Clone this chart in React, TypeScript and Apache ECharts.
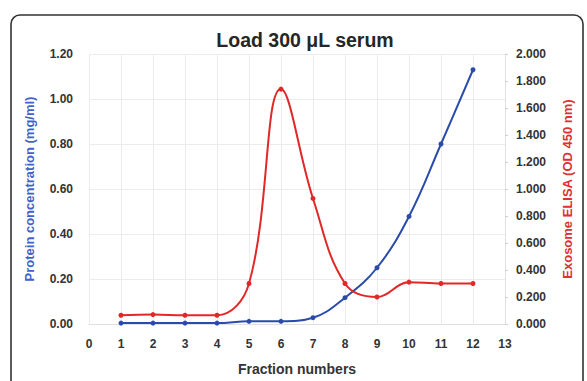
import React, { useEffect, useRef } from "react";
import * as echarts from "echarts";

const fractions = [1, 2, 3, 4, 5, 6, 7, 8, 9, 10, 11, 12];
const protein = [0.004, 0.004, 0.004, 0.004, 0.012, 0.012, 0.028, 0.117, 0.25, 0.478, 0.8, 1.13];
const exosome = [0.065, 0.07, 0.065, 0.065, 0.3, 1.74, 0.93, 0.3, 0.2, 0.31, 0.3, 0.3];

const titleText = "Load 300 μL serum";
const xName = "Fraction numbers";
const yLeftName = "Protein concentration (mg/ml)";
const yRightName = "Exosome ELISA (OD 450 nm)";

const FONT = "'Liberation Sans', Arial, sans-serif";
const BLUE = "#2b4bab";
const RED = "#e02828";

export default function App() {
  const ref = useRef<HTMLDivElement>(null);
  useEffect(() => {
    if (!ref.current) return;
    const chart = echarts.init(ref.current, undefined, { renderer: "svg" });
    chart.setOption({
      animation: false,
      backgroundColor: "#ffffff",
      title: {
        text: titleText,
        left: 300,
        top: 25,
        textAlign: "center",
        textStyle: { fontFamily: FONT, fontSize: 19.5, fontWeight: "bold", color: "#262626" },
      },
      graphic: [
        {
          type: "rect",
          shape: { x: 11, y: 15, width: 572, height: 420, r: 9 },
          style: { fill: "none", stroke: "#333", lineWidth: 1.6 },
          z: 100,
        },
      ],
      grid: { left: 89, right: 82, top: 54, bottom: 51 },
      xAxis: {
        type: "value",
        min: 0,
        max: 13,
        interval: 1,
        name: xName,
        nameLocation: "middle",
        nameGap: 38,
        nameTextStyle: { fontFamily: FONT, fontSize: 14, fontWeight: "bold", color: "#333" },
        axisLine: { show: true, lineStyle: { color: "#e0e0e0" } },
        axisTick: { show: false },
        axisLabel: { margin: 14, fontFamily: FONT, fontSize: 12, fontWeight: "bold", color: "#333" },
        splitLine: { show: true, lineStyle: { color: "#ececec" } },
      },
      yAxis: [
        {
          type: "value",
          min: 0,
          max: 1.2,
          interval: 0.2,
          name: yLeftName,
          nameLocation: "middle",
          nameGap: 53,
          nameRotate: 90,
          nameTextStyle: { fontFamily: FONT, fontSize: 13, fontWeight: "bold", color: "#4462c6" },
          axisLine: { show: false },
          axisTick: { show: false },
          axisLabel: {
            margin: 16,
            fontFamily: FONT,
            fontSize: 12,
            fontWeight: "bold",
            color: "#333",
            formatter: (v: number) => v.toFixed(2),
          },
          splitLine: { show: true, lineStyle: { color: "#ececec" } },
        },
        {
          type: "value",
          position: "right",
          min: 0,
          max: 2,
          interval: 0.2,
          name: yRightName,
          nameLocation: "middle",
          nameGap: 56,
          nameRotate: 90,
          nameTextStyle: { fontFamily: FONT, fontSize: 13, fontWeight: "bold", color: "#e03030" },
          axisLine: { show: true, lineStyle: { color: "#e0e0e0" } },
          axisTick: { show: true, length: 3, lineStyle: { color: "#d0d0d0" } },
          axisLabel: {
            margin: 11,
            fontFamily: FONT,
            fontSize: 12,
            fontWeight: "bold",
            color: "#333",
            formatter: (v: number) => v.toFixed(3),
          },
          splitLine: { show: false },
        },
      ],
      series: [
        {
          name: "Protein",
          type: "line",
          yAxisIndex: 0,
          smooth: 0.4,
          symbol: "circle",
          symbolSize: 5,
          data: fractions.map((f, i) => [f, protein[i]]),
          lineStyle: { color: BLUE, width: 2 },
          itemStyle: { color: BLUE },
        },
        {
          name: "Exosome",
          type: "line",
          yAxisIndex: 1,
          smooth: 0.4,
          symbol: "circle",
          symbolSize: 5,
          data: fractions.map((f, i) => [f, exosome[i]]),
          lineStyle: { color: RED, width: 2 },
          itemStyle: { color: RED },
        },
      ],
    });
    return () => chart.dispose();
  }, []);
  return (
    <div
      ref={ref}
      style={{ position: "fixed", left: 0, top: 0, width: 587, height: 381, background: "#fff" }}
    />
  );
}
